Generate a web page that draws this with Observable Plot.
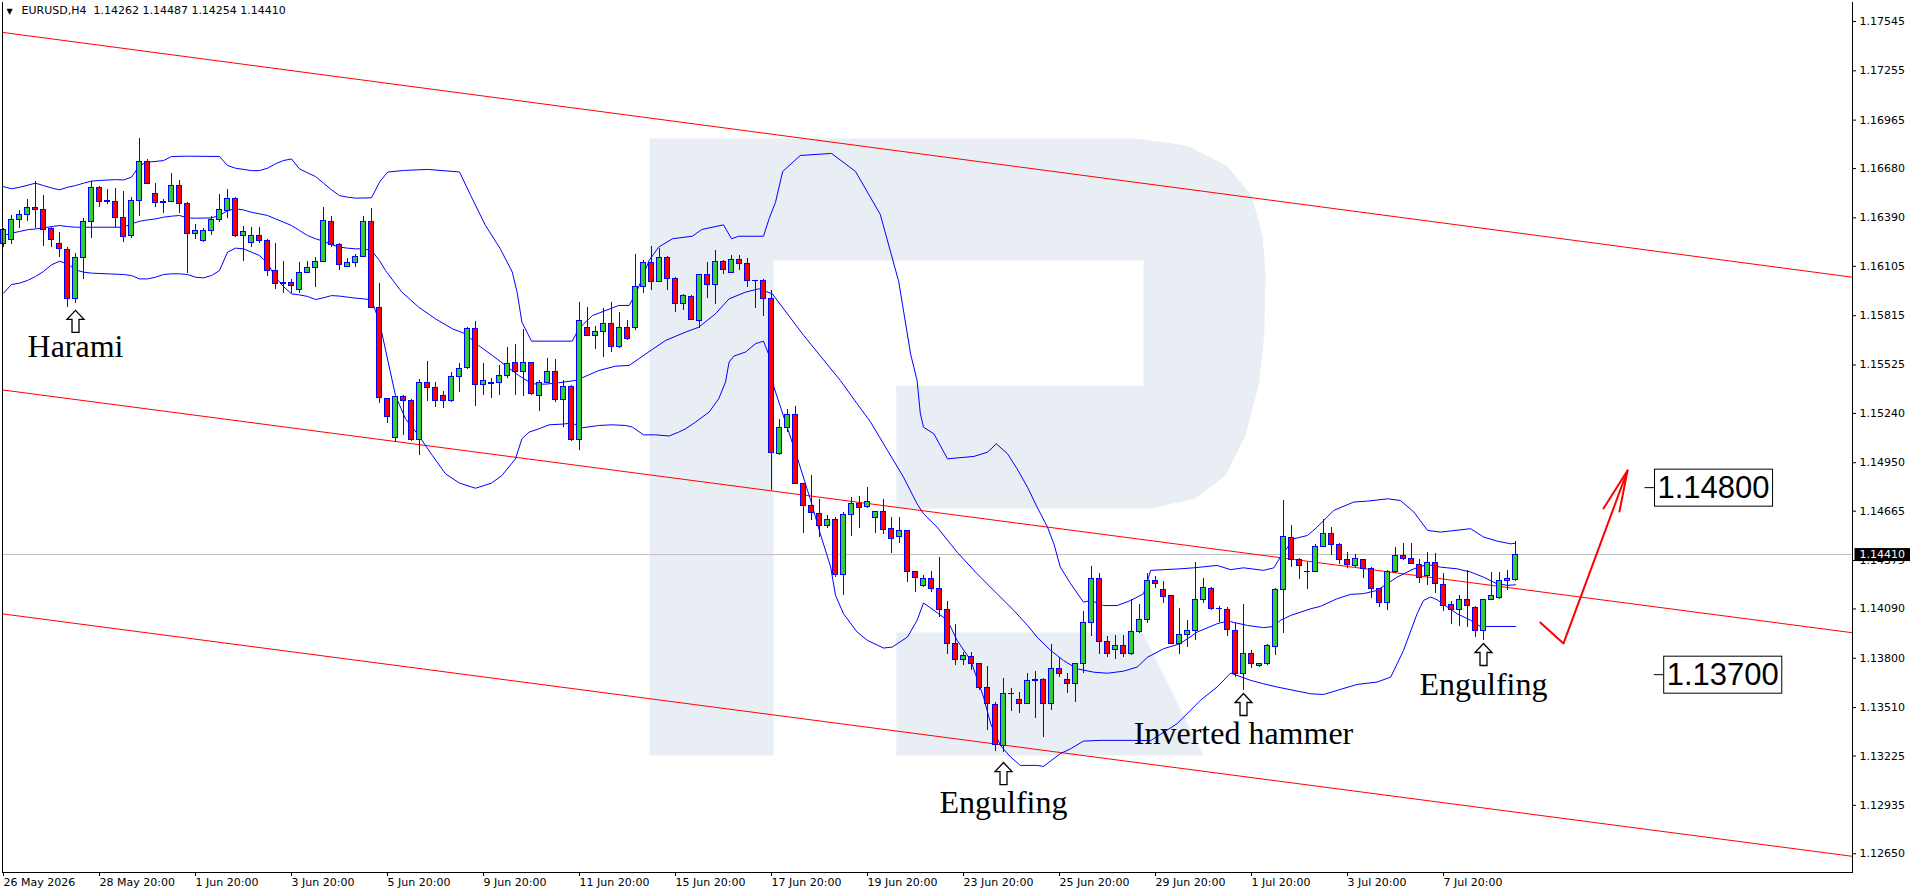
<!DOCTYPE html>
<html><head><meta charset="utf-8">
<script src="https://cdn.jsdelivr.net/npm/d3@7"></script>
<script src="https://cdn.jsdelivr.net/npm/@observablehq/plot@0.6"></script>
<style>
html,body{margin:0;padding:0;background:#fff;overflow:hidden;}
#chart svg{display:block;}
</style></head><body><div id="chart"></div>
<script>
// ---- candle data (EURUSD H4), bar index 0 = 26 May 2026 20:00 ----
const open = [
1.16237,1.16261,1.16378,1.16408,1.16449,1.16437,1.16325,1.16237,1.16202,1.15914,
1.16155,1.16367,1.16566,1.16492,1.16484,1.16390,1.16284,1.16490,1.16719,1.16531,
1.16484,1.16484,1.16578,1.16472,1.16296,1.16255,1.16314,1.16378,1.16431,1.16502,
1.16284,1.16243,1.16284,1.16255,1.16078,1.16006,1.16006,1.15967,1.16067,1.16096,
1.16131,1.16367,1.16231,1.16102,1.16125,1.16161,1.16367,1.15861,1.15322,1.15095,
1.15334,1.15315,1.15081,1.15420,1.15391,1.15344,1.15311,1.15456,1.15507,1.15738,
1.15409,1.15420,1.15420,1.15462,1.15538,1.15485,1.15538,1.15344,1.15420,1.15485,
1.15321,1.15397,1.15085,1.15744,1.15697,1.15716,1.15767,1.15632,1.15744,1.15744,
1.15985,1.16126,1.16014,1.16155,1.16032,1.15885,1.15926,1.15785,1.16055,1.15997,
1.16132,1.16067,1.16144,1.16120,1.16020,1.16020,1.15914,1.14999,1.15156,1.15232,
1.14826,1.14693,1.14650,1.14576,1.14615,1.14287,1.14644,1.14709,1.14689,1.14623,
1.14662,1.14562,1.14513,1.14546,1.14307,1.14223,1.14266,1.14209,1.14081,1.13886,
1.13792,1.13807,1.13764,1.13627,1.13523,1.13284,1.13592,1.13556,1.13533,1.13666,
1.13674,1.13533,1.13739,1.13670,1.13647,1.13768,1.14007,1.14268,1.13895,1.13846,
1.13874,1.13823,1.13954,1.14026,1.14254,1.14199,1.14164,1.13886,1.13934,1.13958,
1.14140,1.14205,1.14091,1.14085,1.13962,1.13709,1.13823,1.13752,1.13764,1.13866,
1.14199,1.14508,1.14375,1.14309,1.14309,1.14457,1.14528,1.14467,1.14375,1.14340,
1.14379,1.14326,1.14205,1.14127,1.14305,1.14403,1.14385,1.14350,1.14281,1.14361,
1.14232,1.14113,1.14081,1.14140,1.14097,1.13958,1.14140,1.14156,1.14256,1.14262];
const high = [
1.16329,1.16404,1.16433,1.16496,1.16606,1.16519,1.16335,1.16302,1.16214,1.16178,
1.16384,1.16606,1.16574,1.16555,1.16561,1.16547,1.16508,1.16855,1.16731,1.16590,
1.16496,1.16649,1.16610,1.16482,1.16351,1.16325,1.16398,1.16525,1.16555,1.16508,
1.16341,1.16331,1.16331,1.16261,1.16237,1.16131,1.16028,1.16125,1.16131,1.16155,
1.16449,1.16398,1.16237,1.16149,1.16173,1.16396,1.16443,1.16002,1.15330,1.15334,
1.15346,1.15322,1.15440,1.15546,1.15420,1.15366,1.15483,1.15532,1.15748,1.15781,
1.15532,1.15448,1.15522,1.15630,1.15646,1.15732,1.15542,1.15432,1.15562,1.15556,
1.15434,1.15407,1.15891,1.15860,1.15750,1.15856,1.15891,1.15832,1.15787,1.16173,
1.16140,1.16220,1.16208,1.16163,1.16038,1.15938,1.15934,1.16059,1.16126,1.16197,
1.16138,1.16167,1.16167,1.16152,1.16022,1.16026,1.15961,1.15203,1.15261,1.15281,
1.14830,1.14873,1.14734,1.14640,1.14630,1.14656,1.14744,1.14754,1.14803,1.14662,
1.14734,1.14630,1.14630,1.14550,1.14307,1.14285,1.14313,1.14391,1.14131,1.13997,
1.13831,1.13831,1.13768,1.13754,1.13537,1.13680,1.13621,1.13601,1.13709,1.13725,
1.13680,1.13882,1.13807,1.13709,1.13768,1.14077,1.14342,1.14301,1.13929,1.13934,
1.13934,1.14144,1.14117,1.14301,1.14278,1.14252,1.14170,1.14091,1.14023,1.14365,
1.14268,1.14219,1.14105,1.14101,1.14003,1.14117,1.13846,1.13764,1.13882,1.14209,
1.14728,1.14581,1.14385,1.14365,1.14469,1.14614,1.14571,1.14473,1.14424,1.14410,
1.14381,1.14332,1.14213,1.14317,1.14450,1.14473,1.14477,1.14379,1.14422,1.14418,
1.14297,1.14131,1.14170,1.14317,1.14105,1.14148,1.14305,1.14307,1.14317,1.14487];
const low = [
1.16218,1.16233,1.16325,1.16370,1.16325,1.16223,1.16218,1.16155,1.15861,1.15888,
1.16028,1.16266,1.16449,1.16468,1.16335,1.16247,1.16266,1.16398,1.16586,1.16449,
1.16414,1.16478,1.16414,1.16065,1.16261,1.16247,1.16284,1.16361,1.16384,1.16276,
1.16135,1.16218,1.16241,1.16047,1.15967,1.15947,1.15943,1.15943,1.16061,1.15978,
1.16125,1.16218,1.16078,1.16096,1.16096,1.16159,1.15855,1.15300,1.15179,1.15068,
1.15111,1.15072,1.14993,1.15313,1.15272,1.15268,1.15303,1.15362,1.15499,1.15283,
1.15346,1.15326,1.15346,1.15448,1.15346,1.15342,1.15346,1.15254,1.15413,1.15307,
1.15160,1.15072,1.15023,1.15697,1.15613,1.15571,1.15601,1.15620,1.15667,1.15726,
1.15944,1.15965,1.16008,1.15961,1.15832,1.15844,1.15785,1.15742,1.15914,1.15879,
1.16055,1.16061,1.16081,1.15983,1.15856,1.15809,1.14787,1.14990,1.15126,1.14822,
1.14532,1.14611,1.14513,1.14562,1.14274,1.14170,1.14519,1.14562,1.14680,1.14536,
1.14527,1.14415,1.14474,1.14248,1.14184,1.14219,1.14184,1.14042,1.13823,1.13758,
1.13758,1.13729,1.13611,1.13376,1.13254,1.13243,1.13484,1.13474,1.13529,1.13445,
1.13333,1.13490,1.13686,1.13592,1.13537,1.13713,1.13929,1.13823,1.13807,1.13792,
1.13803,1.13817,1.13944,1.14003,1.14209,1.14121,1.13880,1.13823,1.13866,1.13905,
1.14125,1.14081,1.14013,1.13929,1.13689,1.13611,1.13738,1.13748,1.13758,1.13817,
1.13948,1.14332,1.14262,1.14203,1.14305,1.14450,1.14403,1.14352,1.14326,1.14332,
1.14270,1.14150,1.14097,1.14078,1.14297,1.14375,1.14352,1.14238,1.14227,1.14180,
1.14076,1.13997,1.13987,1.13983,1.13925,1.13905,1.14140,1.14144,1.14199,1.14254];
const close = [
1.16316,1.16378,1.16408,1.16449,1.16437,1.16320,1.16261,1.16208,1.15914,1.16155,
1.16367,1.16566,1.16484,1.16484,1.16390,1.16280,1.16490,1.16719,1.16590,1.16478,
1.16480,1.16578,1.16472,1.16296,1.16314,1.16314,1.16378,1.16437,1.16502,1.16284,
1.16308,1.16284,1.16255,1.16078,1.16002,1.16002,1.15988,1.16067,1.16096,1.16131,
1.16372,1.16231,1.16114,1.16125,1.16161,1.16367,1.15861,1.15330,1.15219,1.15334,
1.15315,1.15081,1.15420,1.15391,1.15315,1.15311,1.15456,1.15503,1.15738,1.15409,
1.15432,1.15413,1.15462,1.15532,1.15485,1.15538,1.15356,1.15420,1.15485,1.15321,
1.15397,1.15085,1.15785,1.15697,1.15716,1.15767,1.15632,1.15744,1.15679,1.15985,
1.16126,1.16014,1.16155,1.16032,1.15885,1.15932,1.15791,1.16055,1.15997,1.16132,
1.16085,1.16144,1.16120,1.16020,1.16018,1.15914,1.15010,1.15156,1.15228,1.14826,
1.14693,1.14654,1.14576,1.14615,1.14287,1.14644,1.14709,1.14685,1.14717,1.14662,
1.14556,1.14503,1.14546,1.14307,1.14274,1.14266,1.14209,1.14081,1.13886,1.13792,
1.13811,1.13764,1.13627,1.13529,1.13288,1.13592,1.13590,1.13533,1.13666,1.13670,
1.13533,1.13739,1.13709,1.13647,1.13768,1.14007,1.14268,1.13895,1.13823,1.13874,
1.13827,1.13954,1.14026,1.14254,1.14234,1.14160,1.13886,1.13934,1.13958,1.14140,
1.14215,1.14091,1.14089,1.13964,1.13709,1.13823,1.13764,1.13764,1.13870,1.14199,
1.14512,1.14375,1.14340,1.14307,1.14457,1.14528,1.14469,1.14375,1.14346,1.14381,
1.14326,1.14205,1.14127,1.14305,1.14403,1.14383,1.14355,1.14274,1.14361,1.14234,
1.14109,1.14081,1.14144,1.14105,1.13958,1.14140,1.14168,1.14256,1.14265,1.14410];

// ---- Bollinger bands: [bar, price] ----
const bbUpper = [[0,1.16574],[1,1.16561],[2,1.16570],[4,1.16594],[5,1.16580],[6,1.16566],[7,1.16555],[8,1.16570],[9,1.16580],[10,1.16594],[11,1.16606],[12,1.16610],[14,1.16615],[15,1.16613],[16,1.16629],[17,1.16698],[18,1.16717],[20,1.16727],[21,1.16751],[23,1.16753],[27,1.16751],[28,1.16698],[29,1.16682],[31,1.16668],[32,1.16668],[33,1.16682],[34,1.16708],[35,1.16727],[36,1.16737],[37,1.16678],[38,1.16655],[39,1.16633],[40,1.16594],[41,1.16555],[42,1.16521],[43,1.16512],[44,1.16506],[46,1.16508],[47,1.16600],[48,1.16659],[50,1.16669],[53,1.16675],[57,1.16660],[58.4,1.16522],[60.25,1.16345],[62.1,1.16208],[63.6,1.16071],[64.2,1.15953],[64.8,1.15777],[66,1.15665],[71.1,1.15665],[71.9,1.15738],[73.6,1.15815],[76.9,1.15875],[78.2,1.15875],[78.8,1.15925],[79.4,1.15983],[80.7,1.16140],[81.9,1.16218],[83.6,1.16267],[86.1,1.16282],[87.3,1.16322],[90,1.16349],[91,1.16267],[91.9,1.16282],[95,1.16282],[95.7,1.16385],[96.5,1.16482],[97.4,1.16663],[99.6,1.16757],[103.5,1.16769],[106.5,1.16663],[109.6,1.16410],[111.9,1.16016],[113.4,1.15587],[114.2,1.15434],[114.6,1.15241],[115,1.15159],[116.3,1.15120],[118,1.14973],[121.3,1.14987],[123,1.15012],[124.1,1.15061],[125.5,1.15003],[126.7,1.14914],[128,1.14806],[129.2,1.14689],[130.5,1.14571],[131.3,1.14473],[132.1,1.14336],[133.4,1.14238],[135,1.14130],[135.9,1.14140],[137.5,1.14110],[139.2,1.14110],[140.9,1.14140],[142.5,1.14179],[143.4,1.14317],[145,1.14321],[147.1,1.14326],[148.8,1.14332],[151.7,1.14346],[153.4,1.14321],[155,1.14332],[157.5,1.14317],[158.8,1.14332],[159.6,1.14395],[161.3,1.14503],[163,1.14522],[164.2,1.14571],[166.3,1.14670],[168.8,1.14719],[170.5,1.14724],[173,1.14738],[174.6,1.14728],[176.3,1.14660],[178,1.14552],[179.6,1.14542],[183.4,1.14562],[185,1.14513],[186.7,1.14489],[188.4,1.14473],[189,1.14477]];
const bbMiddle = [[0,1.16286],[1,1.16300],[2,1.16310],[3,1.16320],[4,1.16325],[5,1.16331],[6,1.16339],[7,1.16345],[8,1.16339],[9,1.16335],[15,1.16335],[16,1.16355],[17,1.16370],[18,1.16378],[19,1.16384],[20,1.16394],[21,1.16400],[22,1.16404],[23,1.16390],[24,1.16388],[26,1.16390],[27,1.16404],[28,1.16433],[29,1.16443],[30,1.16437],[31,1.16423],[32,1.16414],[33,1.16404],[34,1.16384],[35,1.16365],[36,1.16345],[37,1.16316],[38,1.16286],[39,1.16267],[40,1.16253],[41,1.16233],[42,1.16218],[43,1.16212],[44,1.16208],[45,1.16208],[46,1.16198],[47,1.16139],[47.75,1.16080],[49.8,1.15953],[51.9,1.15865],[54,1.15796],[56.1,1.15738],[57.75,1.15708],[59.4,1.15639],[61.1,1.15581],[62.75,1.15522],[64.4,1.15463],[66.1,1.15414],[67.75,1.15412],[69.4,1.15420],[71.5,1.15434],[72.5,1.15453],[74.4,1.15492],[76.5,1.15518],[78.2,1.15522],[79.4,1.15561],[81.1,1.15616],[82.75,1.15669],[85.25,1.15718],[86.9,1.15747],[89,1.15826],[90.7,1.15914],[92.75,1.15953],[94.4,1.15973],[96.1,1.15943],[100,1.15700],[104.6,1.15434],[106.7,1.15297],[108.4,1.15188],[110.5,1.15022],[112.5,1.14865],[114.2,1.14708],[115,1.14650],[116.7,1.14571],[119.2,1.14424],[121.7,1.14297],[124.2,1.14179],[126.3,1.14081],[128,1.13993],[129.2,1.13924],[130.9,1.13846],[132.5,1.13787],[134.2,1.13738],[136.3,1.13718],[138,1.13712],[140,1.13724],[141.7,1.13748],[143,1.13806],[145,1.13856],[147.1,1.13886],[149.2,1.13954],[151.7,1.14003],[153,1.14019],[155.5,1.13993],[157.5,1.13980],[158.8,1.13987],[159.6,1.14023],[160.9,1.14052],[163.4,1.14091],[164.6,1.14105],[166.7,1.14150],[168.4,1.14176],[170,1.14180],[171.7,1.14199],[174.2,1.14277],[176.3,1.14326],[178,1.14352],[179.6,1.14336],[181.7,1.14326],[183.4,1.14307],[185,1.14277],[186.7,1.14238],[188,1.14229],[189,1.14232]];
const bbLower = [[0,1.15947],[1,1.15998],[2,1.16006],[3,1.16022],[4,1.16045],[5,1.16075],[6,1.16114],[7,1.16135],[8,1.16120],[9,1.16084],[10,1.16071],[11,1.16065],[13,1.16061],[15,1.16057],[16,1.16051],[17,1.16031],[18,1.16031],[19,1.16041],[20,1.16057],[21,1.16061],[22,1.16061],[23,1.16057],[24,1.16041],[25,1.16037],[26,1.16051],[27,1.16080],[28,1.16188],[29,1.16212],[30,1.16208],[31,1.16188],[32,1.16169],[33,1.16124],[34,1.16041],[35,1.15986],[36,1.15943],[37,1.15937],[38,1.15928],[39,1.15910],[40,1.15920],[41,1.15933],[42,1.15930],[43,1.15924],[44,1.15918],[45,1.15914],[46,1.15908],[47,1.15777],[48,1.15560],[49,1.15345],[50.25,1.15208],[51.9,1.15110],[53.6,1.14993],[55.25,1.14885],[57,1.14830],[59,1.14800],[61,1.14830],[62.3,1.14875],[64,1.14973],[64.8,1.15091],[65.7,1.15130],[66.9,1.15149],[68.2,1.15173],[69.8,1.15177],[71.1,1.15183],[72.3,1.15155],[74.4,1.15169],[76.1,1.15173],[77.75,1.15169],[78.6,1.15160],[80,1.15114],[81.5,1.15114],[83.2,1.15107],[84.4,1.15130],[85.25,1.15149],[86.5,1.15189],[88.2,1.15248],[89.4,1.15326],[90.25,1.15424],[90.7,1.15542],[91.3,1.15577],[92.75,1.15601],[94,1.15650],[95,1.15665],[95.7,1.15581],[96.1,1.15512],[96.3,1.15395],[99.2,1.14983],[100.9,1.14728],[102.1,1.14532],[103.4,1.14336],[104,1.14170],[105,1.14062],[106.7,1.13954],[108,1.13905],[110,1.13860],[111.1,1.13866],[113,1.13925],[114.2,1.14023],[115,1.14125],[116.3,1.14082],[118,1.14023],[119.2,1.13905],[120.9,1.13788],[122.5,1.13572],[123.4,1.13415],[124.6,1.13288],[125.9,1.13219],[127.1,1.13170],[129.2,1.13170],[130,1.13164],[132.1,1.13239],[133.4,1.13268],[135,1.13313],[137.1,1.13317],[141.3,1.13317],[143.4,1.13316],[146.7,1.13415],[149.6,1.13552],[151.7,1.13631],[153.4,1.13713],[155.9,1.13670],[157.5,1.13650],[159.2,1.13631],[161.3,1.13611],[163.4,1.13591],[165,1.13587],[166.7,1.13611],[169.2,1.13646],[171.7,1.13660],[173.4,1.13689],[175,1.13846],[176.7,1.14062],[177.5,1.14140],[178.4,1.14160],[179.2,1.14144],[180.5,1.14101],[181.7,1.14062],[183.4,1.14023],[184.6,1.13987],[189,1.13987]];

// ---- regression channel (red), two points each ----
const channelTop = [[-0.125,1.17481],[231.125,1.16041]];
const channelMid = [[-0.125,1.15378],[231.125,1.13950]];
const channelBot = [[-0.125,1.14061],[231.125,1.12635]];

// ---- axes ----
const yTicks = [1.17545,1.17255,1.16965,1.16680,1.16390,1.16105,1.15815,1.15525,1.15240,1.14950,1.14665,1.14375,1.14090,1.13800,1.13510,1.13225,1.12935,1.12650];
const xTickBars = [0,12,24,36,48,60,72,84,96,108,120,132,144,156,168,180];
const xTickLabels = ["26 May 2026","28 May 20:00","1 Jun 20:00","3 Jun 20:00","5 Jun 20:00","9 Jun 20:00","11 Jun 20:00","15 Jun 20:00","17 Jun 20:00","19 Jun 20:00","23 Jun 20:00","25 Jun 20:00","29 Jun 20:00","1 Jul 20:00","3 Jul 20:00","7 Jul 20:00"];
const lastPrice = 1.14410;
const headerText = "EURUSD,H4\u00a0\u00a01.14262 1.14487 1.14254 1.14410";

// ---- annotations ----
const patternBars = [9, 125, 155, 185];
const patternNames = ["Harami", "Engulfing", "Inverted hammer", "Engulfing"];
const arrowPrices = [1.15781, 1.13122, 1.13528, 1.13822];
const labelPrices = [1.15634, 1.12952, 1.13358, 1.13646];
const targetBars = [206.75, 207.9];
const targetPrices = [1.14800, 1.13700];
const forecastPath = [[192.1,1.14010],[195.0,1.13887],[203.0,1.14904]];
const forecastHead = [[200.0,1.14681],[203.0,1.14904],[202.0,1.14663]];

// ---- background watermark (bar, price) ----
const wmOuter = [[80.75,1.16857],[141.6,1.16857],[147.9,1.16816],[152.9,1.16698],[156,1.16522],[157.4,1.16287],[157.75,1.16052],[157.6,1.15699],[156.9,1.15404],[155.25,1.15110],[152.75,1.14875],[149,1.14740],[143.4,1.14681],[111.6,1.14681],[111.6,1.15404],[142.5,1.15404],[142.5,1.16139],[96.25,1.16139],[96.25,1.13228],[80.75,1.13228]];
const wmLeg = [[111.6,1.13952],[142.4,1.13952],[150,1.13228],[111.6,1.13228]];

const candles = open.map((o, i) => ({i, o, h: high[i], l: low[i], c: close[i]}));
const up = candles.filter(d => d.c >= d.o), down = candles.filter(d => d.c < d.o);
const patterns = patternBars.map((b, k) => ({bar: b, arrow: arrowPrices[k], label: labelPrices[k], name: patternNames[k]}));
const targets = targetBars.map((b, k) => ({bar: b, price: targetPrices[k], label: targetPrices[k].toFixed(5)}));
const xLabel = new Map(xTickBars.map((b, k) => [b, xTickLabels[k]]));

const hollowArrow = {
  draw(ctx, size) {
    const s = Math.sqrt(size / Math.PI) / 11;
    ctx.moveTo(0, -11 * s); ctx.lineTo(8.5 * s, -2 * s); ctx.lineTo(3.5 * s, -2 * s);
    ctx.lineTo(3.5 * s, 11 * s); ctx.lineTo(-3.5 * s, 11 * s); ctx.lineTo(-3.5 * s, -2 * s);
    ctx.lineTo(-8.5 * s, -2 * s); ctx.closePath();
  }
};
const blue = "#0000ff", red = "#ff0000";
const P = d => d[0], V = d => d[1];

const chart = Plot.plot({
  width: 1916, height: 896,
  marginLeft: 2, marginRight: 64, marginTop: 2, marginBottom: 24,
  style: {fontFamily: "DejaVu Sans", fontSize: "11px", background: "#fff", color: "#000"},
  x: {type: "linear", domain: [-0.125, 231.125]},
  y: {domain: [1.1254, 1.176567]},
  marks: [
    Plot.line(wmOuter, {x: P, y: V, fill: "#e9edf4", stroke: "none"}),
    Plot.line(wmLeg, {x: P, y: V, fill: "#e9edf4", stroke: "none"}),
    Plot.ruleY([lastPrice], {stroke: "#c0c0c0", strokeWidth: 1}),
    Plot.line(channelTop, {x: P, y: V, stroke: red, strokeWidth: 1}),
    Plot.line(channelMid, {x: P, y: V, stroke: red, strokeWidth: 1}),
    Plot.line(channelBot, {x: P, y: V, stroke: red, strokeWidth: 1}),
    Plot.line(bbUpper, {x: P, y: V, stroke: blue, strokeWidth: 1}),
    Plot.line(bbMiddle, {x: P, y: V, stroke: blue, strokeWidth: 1}),
    Plot.line(bbLower, {x: P, y: V, stroke: blue, strokeWidth: 1}),
    Plot.ruleX(candles, {x: "i", y1: "l", y2: "h", stroke: blue, strokeWidth: 1, shapeRendering: "crispEdges"}),
    Plot.rect(up, {x1: d => d.i - 0.28, x2: d => d.i + 0.28, y1: "o", y2: "c", fill: "#32cd32", stroke: blue, strokeWidth: 1, shapeRendering: "crispEdges"}),
    Plot.rect(down, {x1: d => d.i - 0.28, x2: d => d.i + 0.28, y1: "o", y2: "c", fill: red, stroke: blue, strokeWidth: 1, shapeRendering: "crispEdges"}),
    Plot.dot(patterns, {x: "bar", y: "arrow", symbol: hollowArrow, r: 11, fill: "white", stroke: "#000", strokeWidth: 1.3}),
    Plot.text(patterns, {x: "bar", y: "label", text: "name", fontFamily: "Liberation Serif", fontSize: 32, fill: "#000"}),
    Plot.line(forecastPath, {x: P, y: V, stroke: red, strokeWidth: 2}),
    Plot.line(forecastHead, {x: P, y: V, stroke: red, strokeWidth: 2}),
    Plot.text(targets, {x: "bar", y: "price", text: "label", textAnchor: "start", fontFamily: "Liberation Sans", fontSize: 31, fill: "#000", className: "boxed"}),
    Plot.frame({anchor: "left", stroke: "#000"}),
    Plot.frame({anchor: "right", stroke: "#000"}),
    Plot.frame({anchor: "bottom", stroke: "#000"}),
    Plot.axisY(yTicks, {anchor: "right", tickSize: 3, tickPadding: 4, textAnchor: "start", tickFormat: d => d.toFixed(5), fontSize: 11, fill: "#000", stroke: "#000"}),
    Plot.axisX(xTickBars, {anchor: "bottom", tickSize: 4, tickPadding: 2, textAnchor: "start", tickFormat: d => xLabel.get(d), fontSize: 11, fill: "#000", stroke: "#000"}),
    Plot.text([lastPrice], {y: d => d, frameAnchor: "right", dx: 7, text: d => d.toFixed(5), textAnchor: "start", fill: "#fff", fontSize: 11, className: "pricebox"}),
    Plot.text([headerText], {frameAnchor: "top-left", dx: 19, dy: 4, text: d => d, textAnchor: "start", lineAnchor: "top", fontSize: 11, fill: "#000"}),
    Plot.text(["\u25bc"], {frameAnchor: "top-left", dx: 4, dy: 6, text: d => d, textAnchor: "start", lineAnchor: "top", fontSize: 8, fill: "#000"})
  ]
});
document.getElementById("chart").append(chart);

function boxTexts(selector, opts) {
  chart.querySelectorAll(selector + " text").forEach(t => {
    const b = t.getBBox();
    const ns = "http://www.w3.org/2000/svg";
    const r = document.createElementNS(ns, "rect");
    r.setAttribute("x", b.x - opts.px); r.setAttribute("y", b.y - opts.py);
    r.setAttribute("width", b.width + 2 * opts.px); r.setAttribute("height", b.height + 2 * opts.py);
    r.setAttribute("fill", opts.fill); r.setAttribute("stroke", opts.stroke || "none");
    r.setAttribute("stroke-width", 1);
    if (t.getAttribute("transform")) r.setAttribute("transform", t.getAttribute("transform"));
    t.parentNode.insertBefore(r, t);
    if (opts.dash) {
      const l = document.createElementNS(ns, "line");
      const cy = b.y + b.height / 2;
      l.setAttribute("x1", b.x - opts.px - opts.dash); l.setAttribute("x2", b.x - opts.px);
      l.setAttribute("y1", cy); l.setAttribute("y2", cy); l.setAttribute("stroke", "#000");
      if (t.getAttribute("transform")) l.setAttribute("transform", t.getAttribute("transform"));
      t.parentNode.insertBefore(l, t);
    }
  });
}
boxTexts(".boxed", {px: 3, py: 1, fill: "#fff", stroke: "#000", dash: 10});
boxTexts(".pricebox", {px: 5, py: 0, fill: "#000"});
</script></body></html>
